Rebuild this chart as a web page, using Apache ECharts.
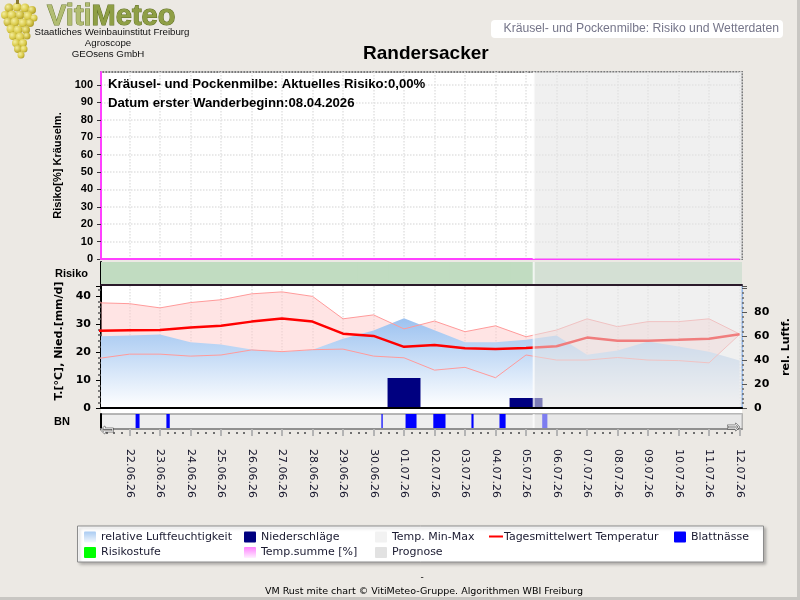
<!DOCTYPE html>
<html>
<head>
<meta charset="utf-8">
<script src="https://cdn.jsdelivr.net/npm/echarts@6/dist/echarts.min.js"></script>
<style>
  html, body { margin: 0; padding: 0; background: #ece9e4; }
  #chart { width: 800px; height: 600px; }
</style>
</head>
<body>
<div id="chart"></div>
<script>
// Tage relativ zum 22.06.26 (0); -1 = 21.06.26
const days = [-1, 0, 1, 2, 3, 4, 5, 6, 7, 8, 9, 10, 11, 12, 13, 14, 15, 16, 17, 18, 19, 20]
const dateLabels = ['22.06.26', '23.06.26', '24.06.26', '25.06.26', '26.06.26', '27.06.26', '28.06.26',
    '29.06.26', '30.06.26', '01.07.26', '02.07.26', '03.07.26', '04.07.26', '05.07.26', '06.07.26',
    '07.07.26', '08.07.26', '09.07.26', '10.07.26', '11.07.26', '12.07.26']

// Temperatur [°C]
const tempMean = [27.5, 27.7, 27.8, 28.7, 29.3, 30.8, 31.9, 30.8, 26.5, 25.7, 21.8, 22.5, 21.3, 21.0, 21.4, 22.0, 25.1, 24.0, 24.0, 24.3, 24.7, 26.3]
const tempMax = [37.5, 37.2, 35.7, 37.6, 38.6, 40.7, 41.4, 39.8, 31.8, 33.2, 28.2, 31.0, 27.2, 29.3, 25.4, 27.8, 31.8, 29.0, 30.8, 30.8, 31.8, 26.4]
const tempMin = [17.7, 19.2, 19.2, 18.5, 18.9, 20.7, 20.1, 20.8, 21.0, 18.5, 17.9, 13.5, 14.5, 10.8, 18.9, 17.1, 17.1, 18.0, 17.1, 16.9, 16.1, 26.2]
// relative Luftfeuchtigkeit [%]
const humidity = [60, 60.6, 61.4, 55, 53, 49, 47, 48.6, 58, 64.7, 75, 65, 55, 55, 57, 60.6, 44.6, 48, 55.6, 51.4, 47, 39.7]
// Niederschlag [mm/d]
const precip = [0, 0, 0, 0, 0, 0, 0, 0, 0, 0, 10.7, 0, 0, 0, 3.6, 0, 0, 0, 0, 0, 0, 0]
// Temp.summe [%] und Risikostufe (0 = gering)
const tempSum = [0, 0, 0, 0, 0, 0, 0, 0, 0, 0, 0, 0, 0, 0, 0, 0, 0, 0, 0, 0, 0, 0]
const riskLevel = [0, 0, 0, 0, 0, 0, 0, 0, 0, 0, 0, 0, 0, 0, 0, 0, 0, 0, 0, 0, 0, 0]
// Blattnässe: Beginn / Ende in Tagen
const leafWet = [[0.20, 0.33], [1.21, 1.32], [8.26, 8.30], [9.05, 9.41], [9.96, 10.36], [11.21, 11.28], [12.13, 12.33], [13.53, 13.70]]
// Prognose ab 05.07.26 06:00
const prognoseStart = 13.25

const X_MIN = -0.934
const X_MAX = 20.08
const riskColors = ['#c1dcc1', '#f0e060', '#f06060']
const quarterTicks = []
for (let q = -3; q <= 80; q++) {
    if (q / 4 >= X_MIN && q / 4 <= X_MAX) quarterTicks.push(q / 4)
}

const FONT = 'Liberation Sans'
const FONT2 = 'DejaVu Sans'

function pairs(arr) {
    return days.map(function(d, i) { return [d, arr[i]] })
}

function renderPrognose(params, api) {
    const cs = params.coordSys
    const x0 = api.coord([api.value(0), 0])[0]
    const x1 = api.coord([api.value(1), 0])[0]
    const rect = echarts.graphic.clipRectByRect({ x: x0, y: cs.y, width: x1 - x0, height: cs.height }, cs)
    return {
        type: 'group',
        children: [
            { type: 'rect', shape: rect, style: { fill: 'rgba(228,228,228,0.55)' } },
            { type: 'line', shape: { x1: x0, y1: cs.y, x2: x0, y2: cs.y + cs.height }, style: { stroke: 'rgba(255,255,255,0.75)', lineWidth: 2 } }
        ]
    }
}

function renderRisk(params, api) {
    const cs = params.coordSys
    const d = api.value(0)
    const x0 = api.coord([d - 0.5, 0])[0]
    const x1 = api.coord([d + 0.5, 0])[0]
    const rect = echarts.graphic.clipRectByRect({ x: x0 - 0.5, y: cs.y, width: x1 - x0 + 1, height: cs.height }, cs)
    return rect && { type: 'rect', shape: rect, style: { fill: riskColors[api.value(1)] } }
}

function renderWet(params, api) {
    const cs = params.coordSys
    const x0 = api.coord([api.value(0), 0])[0]
    const x1 = api.coord([api.value(1), 0])[0]
    const rect = echarts.graphic.clipRectByRect({ x: x0, y: cs.y, width: Math.max(x1 - x0, 1), height: cs.height }, cs)
    return rect && { type: 'rect', shape: rect, style: { fill: '#0000ff' } }
}

// Niederschlagsbalken, ein Tag breit
function renderPrecip(params, api) {
    const v = api.value(1)
    if (!v) return null
    const top = api.coord([api.value(0), v])
    const base = api.coord([api.value(0), 0])
    const w = api.size([1.08, 0])[0]
    return {
        type: 'rect',
        shape: { x: top[0] - w / 2, y: top[1], width: w, height: base[1] - top[1] },
        style: { fill: '#000080' }
    }
}

// Min-Max-Band als eine Flaeche
function renderBand(params, api) {
    const pts = []
    days.forEach(function(d, i) { pts.push(api.coord([d, tempMax[i]])) })
    for (let i = days.length - 1; i >= 0; i--) pts.push(api.coord([days[i], tempMin[i]]))
    return {
        type: 'polygon',
        shape: { points: echarts.graphic.clipPointsByRect(pts, params.coordSys) },
        style: { fill: 'rgba(255,196,196,0.46)' }
    }
}

function dayLabel(v) {
    const r = Math.round(v)
    if (Math.abs(v - r) > 0.01) return ''
    return dateLabels[r] || ''
}

function xAxisBase(grid) {
    return {
        type: 'value', gridIndex: grid, position: 'bottom', min: X_MIN, max: X_MAX, minInterval: 1, maxInterval: 1,
        axisLine: { show: false, onZero: false },
        axisTick: { show: false },
        axisLabel: { show: false },
        splitLine: { show: false }
    }
}

const xA = xAxisBase(0)
xA.splitLine = { show: true, lineStyle: { color: '#e2e2e2', type: 'dotted', width: 1.5 } }
const xB = xAxisBase(1)
xB.z = 20
xB.axisLine = { show: true, onZero: false, lineStyle: { color: '#2a1a2a', width: 2 } }
// Tageslinien unter den Serien
const xC = xAxisBase(2)
xC.splitLine = { show: true, lineStyle: { color: '#e4e4e4', type: 'dotted', width: 1.5 } }
// Nulllinie ueber der Prognose-Schattierung
const xC2 = xAxisBase(2)
xC2.z = 20
xC2.axisLine = { show: true, onZero: false, lineStyle: { color: '#000', width: 2 } }
const xD = xAxisBase(3)
xD.z = 20
xD.axisLine = { show: true, onZero: false, lineStyle: { color: '#909090', width: 2 } }
xD.axisTick = { show: true, length: 7, lineStyle: { color: '#b4b4b4', width: 2 } }
xD.axisLabel = {
    show: true, rotate: -90, margin: 20, showMinLabel: false, showMaxLabel: false,
    fontFamily: FONT2, fontSize: 11, color: '#14142a', formatter: dayLabel
}
const xD2 = xAxisBase(3)
xD2.offset = 3
xD2.axisTick = { show: true, customValues: quarterTicks, length: 2, lineStyle: { color: '#707070', width: 2 } }
xD2.axisLabel = { show: false, customValues: quarterTicks }

const overlay = function(xIdx, yIdx) {
    return {
        name: 'Prognose', type: 'custom', xAxisIndex: xIdx, yAxisIndex: yIdx,
        z: 10, silent: true, renderItem: renderPrognose, encode: { x: [0, 1] },
        data: [[prognoseStart, X_MAX]]
    }
}

// Logo-Trauben (Dekoration)
const grapes = [[9, 8, 4.5], [17, 7, 4.5], [25, 8, 4.5], [32, 10, 4], [5, 15, 4], [12, 15, 4.5], [20, 15, 4.5], [28, 16, 4.5], [34, 18, 3.5],
    [8, 22, 4.5], [15, 22, 4.5], [23, 23, 4.5], [30, 23, 4], [11, 29, 4.5], [18, 30, 4.5], [26, 30, 4], [13, 36, 4], [20, 37, 4.5],
    [27, 36, 3.5], [16, 43, 4], [23, 43, 4], [18, 49, 4], [24, 49, 3.5], [21, 55, 3.5]]
const grapeEls = grapes.map(function(g, i) {
    return {
        type: 'circle', shape: { cx: g[0], cy: g[1], r: g[2] },
        style: {
            fill: new echarts.graphic.RadialGradient(0.35, 0.35, 0.8, [
                { offset: 0, color: '#f4eea0' }, { offset: 0.6, color: i % 3 ? '#d8c845' : '#c9b83a' }, { offset: 1, color: '#9a8a20' }])
        }
    }
})

// Legende
const legendCols = [84, 244, 375, 487, 674]
const legendRows = [531.5, 547]
const legendItems = [
    { name: 'relative Luftfeuchtigkeit', c: 0, r: 0, fill: new echarts.graphic.LinearGradient(0, 0, 0, 1, [{ offset: 0, color: '#a9cbf2' }, { offset: 1, color: '#f2f7fd' }]) },
    { name: 'Niederschläge', c: 1, r: 0, fill: '#000080' },
    { name: 'Temp. Min-Max', c: 2, r: 0, fill: '#f2f2f2' },
    { name: 'Tagesmittelwert Temperatur', c: 3, r: 0, line: '#ff0000' },
    { name: 'Blattnässe', c: 4, r: 0, fill: '#0000ff' },
    { name: 'Risikostufe', c: 0, r: 1, fill: '#00ff00' },
    { name: 'Temp.summe [%]', c: 1, r: 1, fill: new echarts.graphic.LinearGradient(0, 0, 0, 1, [{ offset: 0, color: '#ff80ff' }, { offset: 1, color: '#fff0ff' }]) },
    { name: 'Prognose', c: 2, r: 1, fill: '#e2e2e2' }
]
const legendEls = [{
    type: 'rect', shape: { x: 77.5, y: 526, width: 686, height: 36 },
    style: { fill: '#fff', stroke: '#8c8c8c', lineWidth: 1, shadowBlur: 3, shadowOffsetX: 2, shadowOffsetY: 2, shadowColor: 'rgba(0,0,0,0.25)' }
}]
legendItems.forEach(function(it) {
    const x = legendCols[it.c]
    const y = legendRows[it.r]
    if (it.line) {
        legendEls.push({ type: 'rect', shape: { x: x + 2, y: y + 4, width: 14, height: 2 }, style: { fill: it.line } })
    } else {
        legendEls.push({ type: 'rect', shape: { x: x, y: y, width: 12, height: 11, r: 1 }, style: { fill: it.fill } })
    }
    legendEls.push({
        type: 'text', x: x + 17, y: y + 5.5,
        style: { text: it.name, fontFamily: FONT2, fontSize: 11, fill: '#1a1a30', verticalAlign: 'middle' }
    })
})

const option = {
    backgroundColor: '#ece9e4',
    animation: false,
    title: [
        {
            text: 'Randersacker', left: 363, top: 44, padding: 0,
            textStyle: { fontFamily: FONT, fontWeight: 'bold', fontSize: 19, color: '#000' }
        },
        {
            text: 'Kräusel- und Pockenmilbe: Aktuelles Risiko:0,00%\nDatum erster Wanderbeginn:08.04.2026',
            left: 108, top: 75, padding: 0, z: 30,
            textStyle: { fontFamily: FONT, fontWeight: 'bold', fontSize: 13.2, lineHeight: 19, color: '#000' }
        }
    ],
    grid: [
        { left: 101, top: 72, width: 641, height: 187, show: true, backgroundColor: '#fff', borderColor: '#7a7a7a', borderWidth: 2 },
        { left: 101, top: 262, width: 641, height: 23 },
        { left: 101, top: 286, width: 641, height: 122, show: true, backgroundColor: '#fff', borderWidth: 0 },
        { left: 101, top: 414, width: 641, height: 15, show: true, backgroundColor: '#eeeeee', borderColor: '#a0a0a0', borderWidth: 1.5 }
    ],
    xAxis: [xA, xB, xC, xC2, xD, xD2],
    yAxis: [
        {
            type: 'value', gridIndex: 0, min: 0, max: 107.5, interval: 10,
            name: 'Risiko[%] Kräuselm.', nameLocation: 'middle', nameGap: 30,
            nameTextStyle: { fontFamily: FONT, fontWeight: 'bold', fontSize: 11, color: '#000' },
            axisLine: { show: true, onZero: false, lineStyle: { color: '#ff40ff', width: 2 } },
            axisTick: { show: true, length: 4, lineStyle: { color: '#333' } },
            axisLabel: { showMaxLabel: false, margin: 8, fontFamily: FONT, fontWeight: 'bold', fontSize: 11, color: '#000' },
            splitLine: { show: true, lineStyle: { color: '#e2e2e2', type: 'dotted', width: 1.5 } }
        },
        {
            type: 'value', gridIndex: 1, min: 0, max: 1,
            name: 'Risiko', nameLocation: 'middle', nameRotate: 0, nameGap: 13,
            nameTextStyle: { fontFamily: FONT, fontWeight: 'bold', fontSize: 11, color: '#000' },
            axisLine: { show: true, onZero: false, lineStyle: { color: '#000', width: 2 } },
            axisTick: { show: false }, axisLabel: { show: false }, splitLine: { show: false }
        },
        {
            type: 'value', gridIndex: 2, min: 0, max: 43.5, interval: 10,
            name: 'T.[°C], Nied.[mm/d]', nameLocation: 'middle', nameGap: 25,
            nameTextStyle: { fontFamily: FONT2, fontWeight: 'bold', fontSize: 11, color: '#000', padding: [0, 0, 0, 12] },
            axisLine: { show: true, onZero: false, lineStyle: { color: '#000', width: 2 } },
            axisTick: { show: true, length: 5, lineStyle: { color: '#000' } },
            minorTick: { show: true, splitNumber: 5, length: 3, lineStyle: { color: '#555', width: 1.5 } },
            axisLabel: { showMaxLabel: false, margin: 10, fontFamily: FONT2, fontWeight: 'bold', fontSize: 11, color: '#000' },
            splitLine: { show: false }
        },
        {
            type: 'value', gridIndex: 2, position: 'right', min: 0, max: 102, interval: 20,
            name: 'rel. Luftf.', nameLocation: 'middle', nameGap: 32,
            nameTextStyle: { fontFamily: FONT2, fontWeight: 'bold', fontSize: 11, color: '#000' },
            axisLine: { show: true, onZero: false, lineStyle: { color: '#8cb4ec', width: 2, type: 'dotted' } },
            axisTick: { show: true, length: 5, lineStyle: { color: '#555' } },
            minorTick: { show: true, splitNumber: 5, length: 2, lineStyle: { color: '#666', width: 1.5 } },
            axisLabel: {
                showMaxLabel: false, margin: 12, fontFamily: FONT2, fontWeight: 'bold', fontSize: 11, color: '#000',
                formatter: function(v) { return v > 90 ? '' : String(v) }
            },
            splitLine: { show: false }
        },
        {
            type: 'value', gridIndex: 3, min: 0, max: 1,
            name: 'BN', nameLocation: 'middle', nameRotate: 0, nameGap: 31,
            nameTextStyle: { fontFamily: FONT, fontWeight: 'bold', fontSize: 11, color: '#000' },
            axisLine: { show: true, onZero: false, lineStyle: { color: '#000', width: 2 } },
            axisTick: { show: false }, axisLabel: { show: false }, splitLine: { show: false }
        }
    ],
    series: [
        {
            name: 'Temp.summe [%]', type: 'line', xAxisIndex: 0, yAxisIndex: 0,
            data: pairs(tempSum), symbol: 'none', lineStyle: { color: '#ff40ff', width: 2 }
        },
        overlay(0, 0),
        {
            name: 'Risikostufe', type: 'custom', xAxisIndex: 1, yAxisIndex: 1,
            renderItem: renderRisk, encode: { x: 0, y: 1 }, data: pairs(riskLevel)
        },
        overlay(1, 1),
        {
            name: 'relative Luftfeuchtigkeit', type: 'line', xAxisIndex: 2, yAxisIndex: 3,
            data: pairs(humidity), symbol: 'none', lineStyle: { width: 0 },
            areaStyle: {
                opacity: 1,
                color: new echarts.graphic.LinearGradient(0, 0, 0, 1, [{ offset: 0, color: '#9cc2f0' }, { offset: 1, color: '#ffffff' }])
            }
        },
        {
            name: 'Temp. Min-Max', type: 'custom', xAxisIndex: 2, yAxisIndex: 2,
            renderItem: renderBand, encode: { x: 0, y: 1 }, data: [[0, 20]]
        },
        {
            name: 'Temp. Max', type: 'line', xAxisIndex: 2, yAxisIndex: 2,
            data: pairs(tempMax), symbol: 'none', lineStyle: { color: '#ff9a9a', width: 1 }
        },
        {
            name: 'Temp. Min', type: 'line', xAxisIndex: 2, yAxisIndex: 2,
            data: pairs(tempMin), symbol: 'none', lineStyle: { color: '#ff9a9a', width: 1 }
        },
        {
            name: 'Tagesmittelwert Temperatur', type: 'line', xAxisIndex: 2, yAxisIndex: 2,
            data: pairs(tempMean), symbol: 'none', lineStyle: { color: '#ff0000', width: 2.5 }
        },
        {
            name: 'Niederschläge', type: 'custom', xAxisIndex: 2, yAxisIndex: 2, z: 3,
            renderItem: renderPrecip, encode: { x: 0, y: 1 }, data: pairs(precip)
        },
        overlay(2, 2),
        {
            name: 'Blattnässe', type: 'custom', xAxisIndex: 4, yAxisIndex: 4,
            renderItem: renderWet, encode: { x: [0, 1] }, data: leafWet
        },
        overlay(4, 4)
    ],
    graphic: [
        // weisser Streifen zwischen Nullinie und BN-Leiste
        { type: 'rect', z: -1, shape: { x: 101, y: 408, width: 641, height: 6 }, style: { fill: '#fff' } },
        { type: 'group', children: grapeEls },
        { type: 'rect', shape: { x: 16, y: 0, width: 3, height: 4 }, style: { fill: '#8a7a30' } },
        {
            type: 'text', x: 47, y: 2,
            style: {
                text: '{a|Viti}{b|Meteo}', fontFamily: FONT, fontWeight: 'bold', fontSize: 29,
                rich: {
                    a: { fontFamily: FONT, fontWeight: 'bold', fontSize: 29, fill: '#b2bd72', stroke: '#6d7d32', lineWidth: 1 },
                    b: { fontFamily: FONT, fontWeight: 'bold', fontSize: 29, fill: '#8f9f45', stroke: '#5f6f22', lineWidth: 1 }
                }
            }
        },
        { type: 'text', x: 112, y: 32.5, style: { text: 'Staatliches Weinbauinstitut Freiburg', fontFamily: FONT, fontSize: 9.7, fill: '#111', align: 'center', verticalAlign: 'middle' } },
        { type: 'text', x: 108, y: 43.5, style: { text: 'Agroscope', fontFamily: FONT, fontSize: 9.7, fill: '#111', align: 'center', verticalAlign: 'middle' } },
        { type: 'text', x: 108, y: 54, style: { text: 'GEOsens GmbH', fontFamily: FONT, fontSize: 9.7, fill: '#111', align: 'center', verticalAlign: 'middle' } },
        { type: 'rect', shape: { x: 491, y: 20, width: 292, height: 18, r: 4 }, style: { fill: '#fff' } },
        { type: 'text', x: 779, y: 29, style: { text: 'Kräusel- und Pockenmilbe: Risiko und Wetterdaten', fontFamily: FONT, fontSize: 12.2, fill: '#76768a', align: 'right', verticalAlign: 'middle' } },
        { type: 'text', x: 107, y: 431, z: 30, style: { text: '⇦', fontFamily: FONT2, fontSize: 16, fill: '#fff', stroke: '#111', lineWidth: 0.8, align: 'center', verticalAlign: 'middle' } },
        { type: 'text', x: 734, y: 428, z: 30, style: { text: '⇨', fontFamily: FONT2, fontSize: 16, fill: '#fff', stroke: '#111', lineWidth: 0.8, align: 'center', verticalAlign: 'middle' } },
        { type: 'group', children: legendEls },
        { type: 'text', x: 422, y: 578, style: { text: '-', fontFamily: FONT2, fontSize: 9, fill: '#000', align: 'center', verticalAlign: 'middle' } },
        { type: 'text', x: 424, y: 591.5, style: { text: 'VM Rust mite chart © VitiMeteo-Gruppe. Algorithmen WBI Freiburg', fontFamily: FONT2, fontSize: 9.5, fill: '#000', align: 'center', verticalAlign: 'middle' } },
        { type: 'rect', shape: { x: 797, y: 0, width: 3, height: 600 }, style: { fill: '#c8c6c2' } },
        { type: 'rect', shape: { x: 0, y: 597, width: 800, height: 3 }, style: { fill: '#c8c6c2' } }
    ]
}

const myChart = echarts.init(document.getElementById('chart'))
myChart.setOption(option)
</script>
</body>
</html>
